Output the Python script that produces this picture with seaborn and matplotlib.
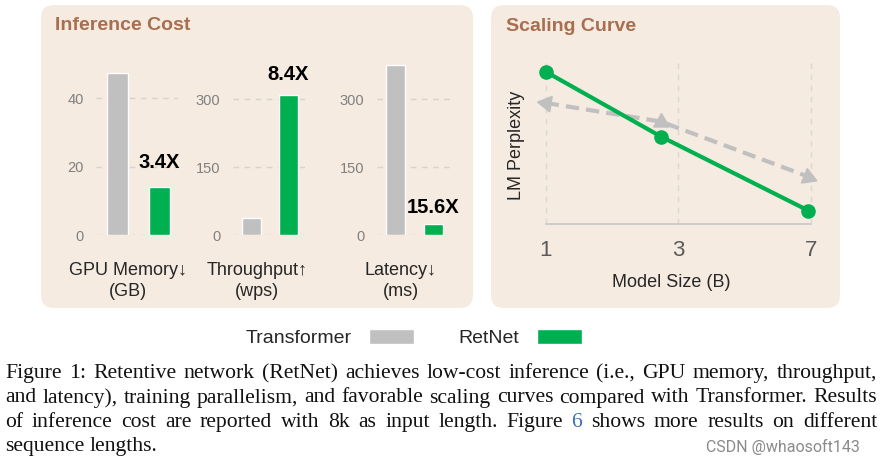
import numpy as np
import pandas as pd
import matplotlib
matplotlib.use("Agg")
import matplotlib.pyplot as plt
import seaborn as sns
from matplotlib.patches import FancyBboxPatch, Patch
from matplotlib.transforms import IdentityTransform

# ---- datos ----
modelos = ["Transformer", "RetNet"]
gpu_memoria = [47.3, 13.9]
throughput = [37, 310]
latencia = [376, 24.1]
mejoras = ["3.4X", "8.4X", "15.6X"]
etiquetas_bar = [("GPU Memory\u2193", "(GB)"), ("Throughput\u2191", "(wps)"), ("Latency\u2193", "(ms)")]
ticks_bar = [[0, 20, 40], [0, 150, 300], [0, 150, 300]]

tam_modelo = ["1", "3", "7"]
pos_x_escala = [0, 0.87, 1.98]
ppl_retnet = [9.12, 5.23, 0.80]
ppl_transformer = [7.25, 6.13, 2.83]

caption = [
    "Figure 1: Retentive network (RetNet) achieves low-cost inference (i.e., GPU memory, throughput,",
    "and latency), training parallelism, and favorable scaling curves compared with Transformer. Results",
    "of inference cost are reported with 8k as input length. Figure 6 shows more results on different",
    "sequence lengths.",
]

GRIS = "#c0c0c0"
VERDE = "#00b050"
FONDO = "#f5ebe0"
TITULO = "#a86e50"

W, H = 881, 462
sns.set_style("white")
plt.rcParams["font.family"] = ["Liberation Sans", "DejaVu Sans"]

fig = plt.figure(figsize=(W / 100, H / 100), dpi=100)


def rect(l, t, r, b):
    return [l / W, 1 - b / H, (r - l) / W, (b - t) / H]


def panel(l, t, r, b, titulo, tx, ty):
    p = FancyBboxPatch((l, H - b), r - l, b - t, boxstyle="round,pad=0,rounding_size=13",
                       transform=IdentityTransform(), facecolor=FONDO, edgecolor="none", zorder=-5)
    fig.add_artist(p)
    fig.text(tx / W, 1 - ty / H, titulo, fontsize=14, fontweight="bold", color=TITULO, va="baseline")


panel(41, 5, 473, 308, "Inference Cost", 55, 30)
panel(491, 5, 840, 308, "Scaling Curve", 506, 31)

# ---- barras ----
cajas = [(96, 64, 178, 235), (232.7, 54, 305, 235), (377, 54, 450, 235)]
limites = [50, 400, 400]
offsets = [19, 15, 11]
centros_lbl = [127.5, 256.7, 401]
for i, vals in enumerate([gpu_memoria, throughput, latencia]):
    ax = fig.add_axes(rect(*cajas[i]))
    df = pd.DataFrame({"modelo": modelos, "valor": vals})
    sns.barplot(data=df, x="modelo", y="valor", hue="modelo", palette=[GRIS, VERDE],
                width=0.5, saturation=1, legend=False, ax=ax, zorder=3)
    ax.set_xlim(-0.5, 1.45)
    ax.set_ylim(0, limites[i])
    ax.set_facecolor("none")
    sns.despine(ax=ax, left=True, bottom=True)
    ax.set_yticks(ticks_bar[i])
    ax.tick_params(axis="y", length=0, pad=9, labelsize=10.5, labelcolor="#808080")
    ax.set_xticks([])
    ax.set_xlabel("")
    ax.set_ylabel("")
    ax.set_axisbelow(True)
    ax.yaxis.grid(True, linestyle=(0, (4, 4)), color="#d9d2ca", linewidth=1)
    ax.annotate(mejoras[i], xy=(1, vals[1]), xytext=(0, offsets[i] * 0.72), textcoords="offset points",
                ha="center", va="baseline", fontsize=14.5, fontweight="bold", color="black")
    fig.text(centros_lbl[i] / W, 1 - 275 / H, etiquetas_bar[i][0], ha="center", va="baseline", fontsize=13)
    fig.text(centros_lbl[i] / W, 1 - 296 / H, etiquetas_bar[i][1], ha="center", va="baseline", fontsize=13)

# ---- curva de escalado ----
ax = fig.add_axes(rect(525.8, 57, 831, 224))
sns.lineplot(x=pos_x_escala, y=ppl_transformer, color=GRIS, linewidth=3,
             linestyle=(0, (3.2, 1.7)), ax=ax)
for x, y, ang in zip(pos_x_escala, ppl_transformer, [81, 0, -112]):
    ax.plot(x, y, marker=(3, 0, ang), markersize=13, color=GRIS, linestyle="none")
sns.lineplot(x=pos_x_escala, y=ppl_retnet, color=VERDE, linewidth=3, marker="o",
             markersize=10.5, markeredgewidth=0, ax=ax)
ax.set_xlim(-0.15, 2.15)
ax.set_ylim(0, 10)
ax.set_facecolor("none")
sns.despine(ax=ax, left=True)
ax.spines["bottom"].set_bounds(0, 2)
ax.spines["bottom"].set_color("#c8c8c8")
ax.spines["bottom"].set_linewidth(1.2)
ax.set_xticks([0, 1, 2])
ax.set_xticklabels(tam_modelo)
ax.set_yticks([])
ax.tick_params(axis="x", length=4.5, width=1, color="#c8c8c8", labelsize=16, labelcolor="#595959", pad=7)
ax.xaxis.grid(True, linestyle=(0, (4, 4)), color="#d8d8d8", linewidth=1)
ax.set_axisbelow(True)
fig.text(671 / W, 1 - 287 / H, "Model Size (B)", ha="center", va="baseline", fontsize=13)
fig.text(516.7 / W, 1 - 145 / H, "LM Perplexity", ha="center", va="center", rotation=90, fontsize=13)

# ---- leyenda ----
fig.legend(handles=[Patch(facecolor=GRIS), Patch(facecolor=VERDE)], labels=modelos,
           ncol=2, markerfirst=False, frameon=False, loc="center",
           bbox_to_anchor=(413.5 / W, 1 - 338 / H), fontsize=14, handlelength=2.3,
           handleheight=0.8, handletextpad=0.9, columnspacing=2.3)

# ---- pie de figura (justificado) ----
fig.canvas.draw()
rend = fig.canvas.get_renderer()
bases = [378, 402.5, 427, 451]
izq, der = 5, 877
for i, linea in enumerate(caption):
    palabras = linea.split(" ")
    textos = []
    for p in palabras:
        col = "#3b6fb6" if (p == "6" and i == 2) else "#111111"
        textos.append(fig.text(0, 1 - bases[i] / H, p, fontsize=15.6, family="Liberation Serif",
                               va="baseline", color=col))
    anchos = [t.get_window_extent(rend).width for t in textos]
    if i < len(caption) - 1:
        hueco = (der - izq - sum(anchos)) / (len(palabras) - 1)
    else:
        hueco = 5.4
    x = izq
    for t, a in zip(textos, anchos):
        t.set_x(x / W)
        x += a + hueco

fig.text(706 / W, 1 - 452 / H, "CSDN @whaosoft143", fontsize=11.5, family="Roboto",
         color="#8a8a8a", va="baseline")

fig.savefig("out.png", dpi=100)
